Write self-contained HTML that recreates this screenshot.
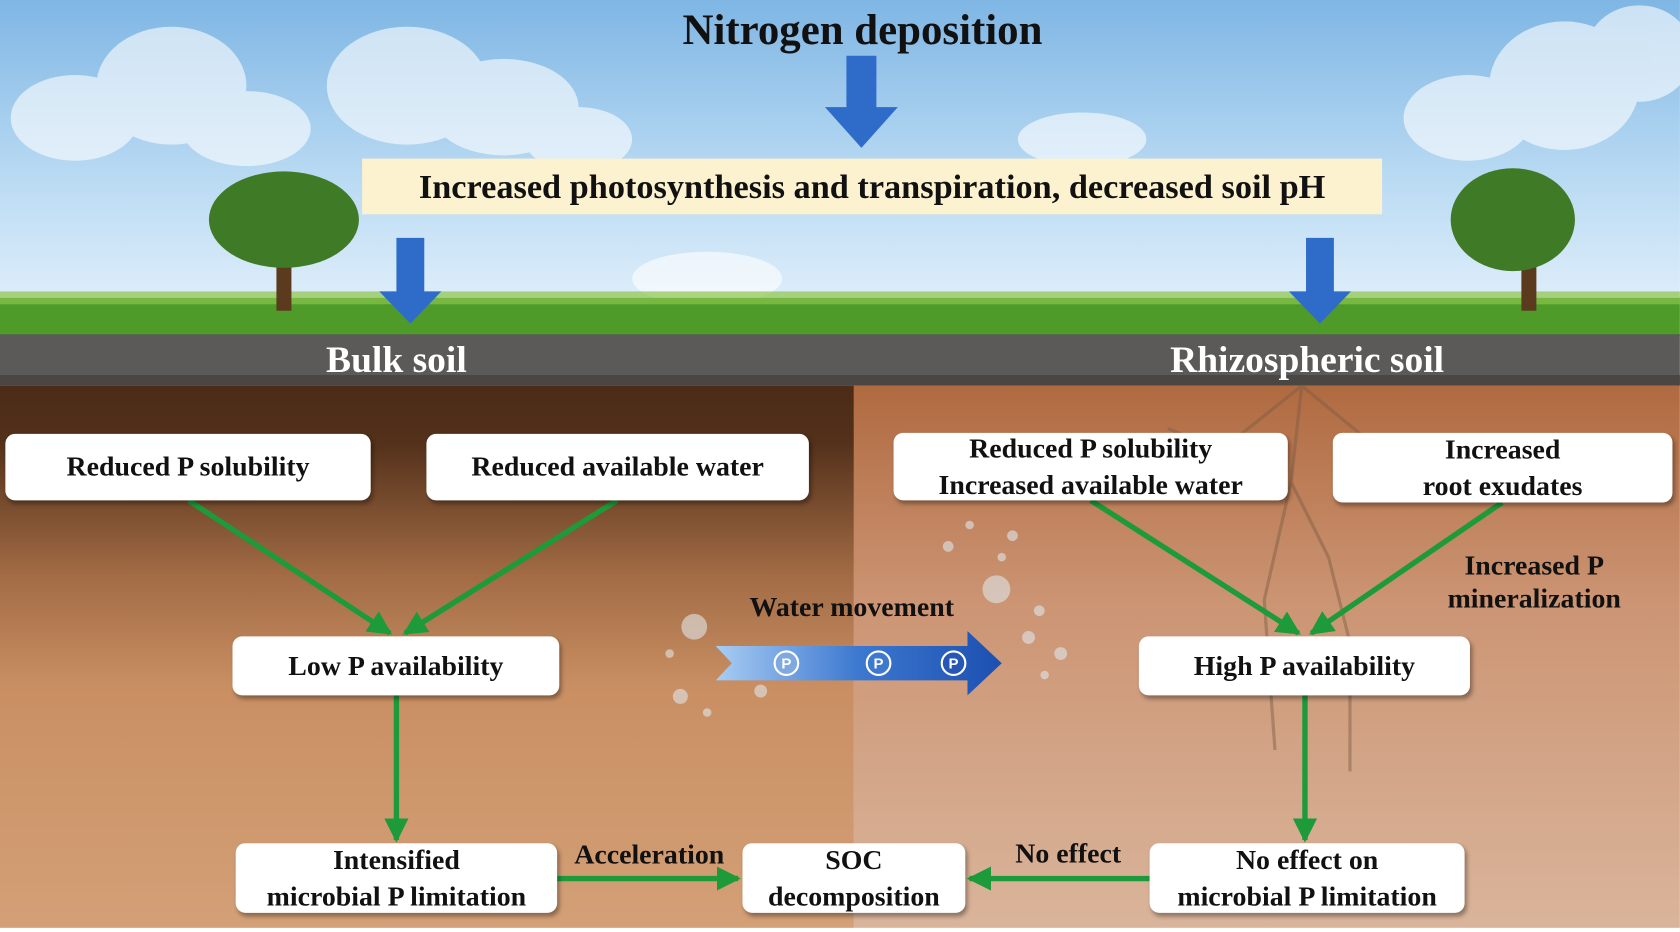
<!DOCTYPE html>
<html><head><style>
html,body{margin:0;padding:0;width:1680px;height:932px;overflow:hidden;background:#fff}
#s{position:absolute;left:0;top:0;width:1568px;height:870px;transform:scale(1.0714);transform-origin:0 0;font-family:"Liberation Serif",serif;font-weight:bold;overflow:hidden}
.b{position:absolute;background:#fff;border-radius:9px;box-shadow:2px 3px 4px rgba(0,0,0,.35);display:flex;align-items:center;justify-content:center;text-align:center;font-size:26px;line-height:34px;color:#111}
.t{position:absolute;font-size:26px;color:#111;text-align:center;line-height:31px;white-space:nowrap}
</style></head><body><div id="s">
<div style="position:absolute;left:0;top:0;width:1568px;height:300px;background:linear-gradient(#7fb6e4,#b9daf3 55%,#e4f1fb)"></div>
<svg width="1568" height="870" style="position:absolute;left:0;top:0">
<g fill="#fff" opacity=".6">
<ellipse cx="70" cy="110" rx="60" ry="40"/><ellipse cx="160" cy="80" rx="70" ry="55"/><ellipse cx="230" cy="120" rx="60" ry="35"/>
<ellipse cx="380" cy="80" rx="75" ry="55"/><ellipse cx="470" cy="100" rx="70" ry="45"/><ellipse cx="540" cy="130" rx="50" ry="30"/>
<ellipse cx="1370" cy="110" rx="60" ry="40"/><ellipse cx="1460" cy="80" rx="70" ry="60"/><ellipse cx="1530" cy="50" rx="50" ry="45"/>
<ellipse cx="660" cy="260" rx="70" ry="25"/><ellipse cx="1010" cy="130" rx="60" ry="25"/>
</g>
<rect x="0" y="278" width="1568" height="36" fill="#4f9b2a"/>
<rect x="0" y="272" width="1568" height="12" fill="#8cc54a" opacity=".7"/>
<rect x="258" y="215" width="14" height="75" fill="#5b3a1e"/>
<ellipse cx="265" cy="205" rx="70" ry="45" fill="#3f7a26"/>
<rect x="1420" y="215" width="14" height="75" fill="#5b3a1e"/>
<ellipse cx="1412" cy="205" rx="58" ry="48" fill="#3f7a26"/>
<rect x="0" y="312" width="1568" height="48" fill="#5c5a58"/>
<rect x="0" y="350" width="1568" height="10" fill="#4a4644"/>
<defs>
<linearGradient id="gl" x1="0" y1="0" x2="0" y2="1"><stop offset="0" stop-color="#4c2c17"/><stop offset=".1" stop-color="#52301a"/><stop offset=".35" stop-color="#a36c45"/><stop offset=".55" stop-color="#c98f63"/><stop offset="1" stop-color="#d4a077"/></linearGradient>
<linearGradient id="gr" x1="0" y1="0" x2="0" y2="1"><stop offset="0" stop-color="#b06a40"/><stop offset=".4" stop-color="#cc9574"/><stop offset="1" stop-color="#dab59b"/></linearGradient>
<linearGradient id="ba" x1="0" y1="0" x2="1" y2="0"><stop offset="0" stop-color="#a9cdf3"/><stop offset=".5" stop-color="#3c78d0"/><stop offset="1" stop-color="#1d4fb0"/></linearGradient>
<marker id="m" markerWidth="4.5" markerHeight="4.5" refX="4" refY="2.25" orient="auto" markerUnits="strokeWidth"><path d="M0,0L4.5,2.25L0,4.5z" fill="#1d9a3a"/></marker>
</defs>
<rect x="0" y="360" width="797" height="510" fill="url(#gl)"/>
<rect x="797" y="360" width="771" height="510" fill="url(#gr)"/>
<g stroke="#7a5a45" stroke-width="3" fill="none" opacity=".45">
<path d="M1215 360 L1205 450 L1180 560 M1205 450 L1240 520 L1260 600 M1215 360 L1140 420 L1090 400 M1215 360 L1300 430 L1360 420 M1180 560 L1190 700 M1260 600 L1260 720"/>
</g>
<path d="M790 52h28v48h20l-34 38-34-38h20z" fill="#2f6cc9"/>
<path d="M370 222h26v50h16l-29 30-29-30h16z" fill="#2f6cc9"/>
<path d="M1219 222h26v50h16l-29 30-29-30h16z" fill="#2f6cc9"/>
<path d="M668 603 h235 v-14 l32 30 -32 30 v-14 h-235 l15 -16z" fill="url(#ba)"/>
<g stroke="#fff" stroke-width="2"><circle cx="734" cy="619" r="11" fill="#7fa9e0"/><circle cx="820" cy="619" r="11" fill="#3f78cf"/><circle cx="890" cy="619" r="11" fill="#2756b5"/></g>
<g font-family="Liberation Sans" font-size="14" fill="#fff" text-anchor="middle" font-weight="bold"><text x="734" y="624">P</text><text x="820" y="624">P</text><text x="890" y="624">P</text></g>
<g fill="#dfe6ea" opacity=".6"><circle cx="648" cy="585" r="12"/><circle cx="930" cy="550" r="13"/><circle cx="635" cy="650" r="7"/><circle cx="710" cy="645" r="6"/><circle cx="960" cy="595" r="6"/><circle cx="990" cy="610" r="6"/><circle cx="885" cy="510" r="5"/><circle cx="905" cy="490" r="4"/><circle cx="945" cy="500" r="5"/><circle cx="970" cy="570" r="5"/><circle cx="625" cy="610" r="4"/><circle cx="660" cy="665" r="4"/><circle cx="935" cy="520" r="4"/><circle cx="975" cy="630" r="4"/></g>
<g stroke="#1d9a3a" stroke-width="5" fill="none" marker-end="url(#m)">
<line x1="176" y1="467" x2="364" y2="591"/><line x1="576" y1="467" x2="378" y2="591"/>
<line x1="1018" y1="467" x2="1212" y2="591"/><line x1="1402" y1="469" x2="1224" y2="591"/>
<line x1="370" y1="649" x2="370" y2="784"/><line x1="1218" y1="649" x2="1218" y2="784"/>
<line x1="520" y1="820" x2="689" y2="820"/><line x1="1073" y1="820" x2="905" y2="820"/>
</g>
<rect x="0" y="866" width="1568" height="4" fill="#fff"/>
</svg>
<div class="t" style="left:0;width:1610px;top:6px;font-size:40px;line-height:44px">Nitrogen deposition</div>
<div style="position:absolute;left:338px;top:148px;width:952px;height:52px;background:#fcf2cf;font-size:32px;line-height:52px;text-align:center;color:#111">Increased photosynthesis and transpiration, decreased soil pH</div>
<div class="t" style="left:270px;width:200px;top:316px;font-size:35px;line-height:40px;color:#fff">Bulk soil</div>
<div class="t" style="left:1020px;width:400px;top:316px;font-size:35px;line-height:40px;color:#fff">Rhizospheric soil</div>
<div class="b" style="left:5px;top:405px;width:341px;height:62px">Reduced P solubility</div>
<div class="b" style="left:398px;top:405px;width:357px;height:62px">Reduced available water</div>
<div class="b" style="left:834px;top:404px;width:368px;height:63px">Reduced P solubility<br>Increased available water</div>
<div class="b" style="left:1244px;top:404px;width:317px;height:65px">Increased<br>root exudates</div>
<div class="b" style="left:217px;top:594px;width:305px;height:55px">Low P availability</div>
<div class="b" style="left:1063px;top:594px;width:309px;height:55px">High P availability</div>
<div class="b" style="left:220px;top:787px;width:300px;height:65px">Intensified<br>microbial P limitation</div>
<div class="b" style="left:693px;top:787px;width:208px;height:65px">SOC<br>decomposition</div>
<div class="b" style="left:1073px;top:787px;width:294px;height:65px">No effect on<br>microbial P limitation</div>
<div class="t" style="left:645px;width:300px;top:551px">Water movement</div>
<div class="t" style="left:1332px;width:200px;top:512px">Increased P<br>mineralization</div>
<div class="t" style="left:520px;width:172px;top:782px">Acceleration</div>
<div class="t" style="left:910px;width:174px;top:781px">No effect</div>
</div></body></html>
